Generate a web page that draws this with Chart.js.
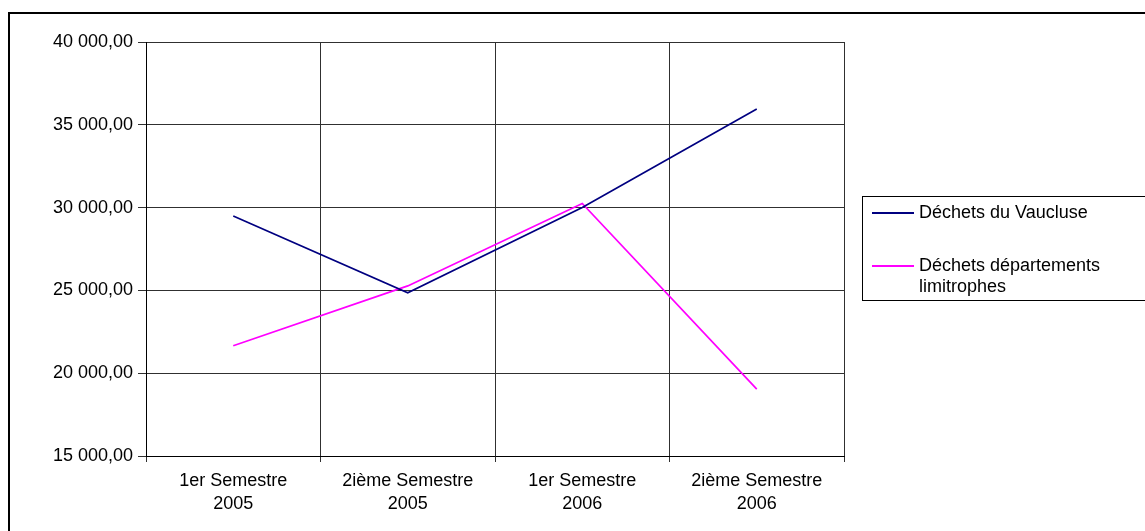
<!DOCTYPE html>
<html>
<head>
<meta charset="utf-8">
<script src="https://cdn.jsdelivr.net/npm/chart.js@4"></script>
<style>
  body { margin: 0; background: #fff; }
  #wrap { position: relative; width: 1145px; height: 531px; overflow: hidden; }
  #legend {
    position: absolute; left: 862px; top: 196px; width: 300px; height: 103px;
    border: 1px solid #000; font-family: "Liberation Sans", Arial, sans-serif;
    font-size: 18px; color: #000;
  }
  .item { position: absolute; left: 9px; }
  .item .swatch { position: absolute; left: 0; width: 42px; height: 2px; }
  .item .txt { position: absolute; left: 47px; white-space: nowrap; line-height: 21px; }
</style>
</head>
<body>
<div id="wrap">
  <canvas id="chart" width="1145" height="531"></canvas>
  <div id="legend"></div>
</div>
<script>
const categories = [['1er Semestre', '2005'], ['2ième Semestre', '2005'], ['1er Semestre', '2006'], ['2ième Semestre', '2006']];
const vaucluse = [29490, 24850, 30010, 35960];
const limitrophes = [21660, 25270, 30250, 19040];
const seriesNames = ['Déchets du Vaucluse', 'Déchets départements|limitrophes'];
const seriesColors = ['#000080', '#FF00FF'];
const yMin = 15000, yMax = 40000, yStep = 5000;

function formatFr(v) {
    return String(v).replace(/\B(?=(\d{3})+(?!\d))/g, ' ') + ',00';
}

// cadre extérieur du graphique
const framePlugin = {
    id: 'frame',
    afterDraw(chart) {
        const c = chart.ctx;
        c.save();
        c.strokeStyle = '#000';
        c.lineWidth = 2;
        c.strokeRect(9, 13, 1300, 700);
        c.restore();
    }
};

const font = { family: '"Liberation Sans", Arial, sans-serif', size: 18 };

new Chart(document.getElementById('chart').getContext('2d'), {
    type: 'line',
    data: {
        labels: categories,
        datasets: [
            { label: seriesNames[0], data: vaucluse, borderColor: seriesColors[0], borderWidth: 1.7, pointRadius: 0, tension: 0 },
            { label: seriesNames[1], data: limitrophes, borderColor: seriesColors[1], borderWidth: 1.7, pointRadius: 0, tension: 0 }
        ]
    },
    options: {
        responsive: false,
        animation: false,
        layout: { padding: { left: 0, top: 42, right: 301, bottom: 0 } },
        scales: {
            x: {
                offset: true,
                afterFit(scale) { scale.height = 75; },
                grid: {
                    offset: true,
                    color: ctx => ctx.index === categories.length ? '#808080' : '#303030',
                    lineWidth: 1,
                    tickLength: 6
                },
                border: { color: '#000', width: 1 },
                ticks: { font: { ...font, lineHeight: 1.3 }, color: '#000', maxRotation: 0, padding: 7 }
            },
            y: {
                min: yMin,
                max: yMax,
                afterFit(scale) { scale.width = 146; },
                grid: { color: '#303030', lineWidth: 1, tickLength: 8 },
                border: { color: '#000', width: 1 },
                ticks: { stepSize: yStep, font: font, color: '#000', padding: 5, callback: v => formatFr(v) }
            }
        },
        plugins: {
            legend: { display: false },
            tooltip: { enabled: false }
        }
    },
    plugins: [framePlugin]
});

// légende HTML
const legend = document.getElementById('legend');
const itemTops = [16, 69];
seriesNames.forEach((name, i) => {
    const item = document.createElement('div');
    item.className = 'item';
    item.style.top = itemTops[i] + 'px';
    const sw = document.createElement('div');
    sw.className = 'swatch';
    sw.style.background = seriesColors[i];
    sw.style.top = '-1px';
    const txt = document.createElement('div');
    txt.className = 'txt';
    txt.style.top = '-11px';
    txt.innerHTML = name.split('|').join('<br>');
    item.appendChild(sw);
    item.appendChild(txt);
    legend.appendChild(item);
});
</script>
</body>
</html>
